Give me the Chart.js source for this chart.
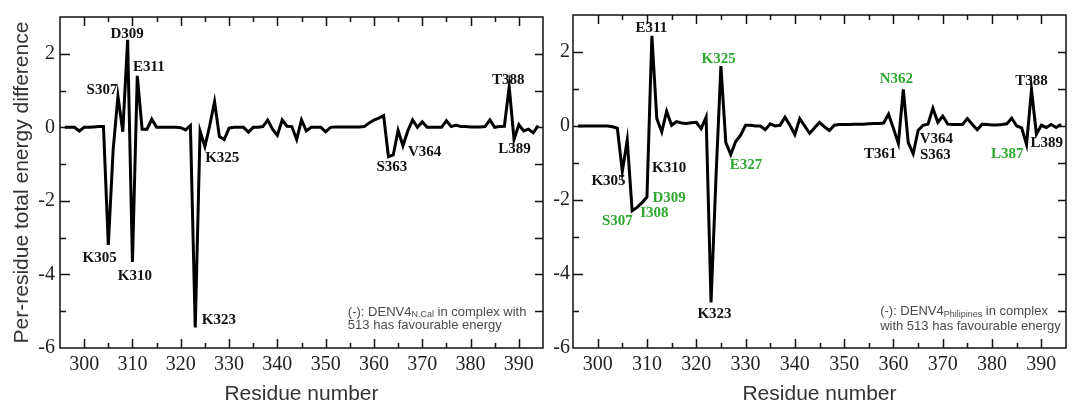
<!DOCTYPE html>
<html>
<head>
<meta charset="utf-8">
<script src="https://cdn.jsdelivr.net/npm/chart.js@4.4.1/dist/chart.umd.min.js"></script>
<style>
  html, body { margin: 0; padding: 0; background: #fff; }
  #wrap { position: relative; width: 1072px; height: 406px; overflow: hidden; }
  .panel { position: absolute; top: 0; height: 406px; }
  #left { left: 0; width: 546px; }
  #right { left: 546px; width: 526px; }
  canvas { display: block; }
</style>
</head>
<body>
<div id="wrap">
  <div class="panel" id="left"><canvas id="cLeft" width="546" height="406"></canvas></div>
  <div class="panel" id="right"><canvas id="cRight" width="526" height="406"></canvas></div>
</div>
<script>
// Residue numbers along the x axis
const residues = [
  296,297,298,299,300,301,302,303,304,305,306,307,308,309,310,311,312,313,314,315,
  316,317,318,319,320,321,322,323,324,325,326,327,328,329,330,331,332,333,334,335,
  336,337,338,339,340,341,342,343,344,345,346,347,348,349,350,351,352,353,354,355,
  356,357,358,359,360,361,362,363,364,365,366,367,368,369,370,371,372,373,374,375,
  376,377,378,379,380,381,382,383,384,385,386,387,388,389,390,391,392,393,394
];

// Per-residue total energy difference, DENV4 N.Cal
const energyNCal = [
  0, 0, 0, -0.1, 0, 0, 0.01, 0.02, 0.02, -3.2,
  -0.62, 0.85, -0.12, 2.38, -3.66, 1.4, -0.05, -0.05, 0.22, 0,
  0, 0, 0, 0, -0.01, -0.07, 0.05, -5.44, -0.1, -0.52,
  0.05, 0.7, -0.25, -0.33, -0.02, 0, 0, 0, -0.13, 0,
  0, 0.02, 0.2, -0.05, -0.22, 0.2, 0.03, 0.02, -0.33, 0.2,
  -0.1, 0, 0, 0, -0.12, 0, 0.01, 0.01, 0.01, 0.01,
  0.01, 0.01, 0.02, 0.12, 0.2, 0.25, 0.32, -0.8, -0.75, -0.08,
  -0.5, -0.1, 0.2, 0, 0.15, 0, 0, 0, 0, 0.18,
  0.02, 0.06, 0.02, 0.02, 0.01, 0.01, 0.01, 0.02, 0.2, 0,
  0.02, 0.03, 1.1, -0.33, 0.07, -0.1, -0.05, -0.15, 0.05
];

// Per-residue total energy difference, DENV4 Philipines
const energyPhil = [
  0, 0, 0, 0, 0, 0, 0, -0.02, -0.06, -1.23,
  -0.38, -2.29, -2.2, -2.07, -1.92, 2.44, 0.2, -0.16, 0.4, 0.02,
  0.12, 0.08, 0.07, 0.09, 0.1, -0.07, 0.24, -4.77, -1.4, 1.62,
  -0.45, -0.77, -0.42, -0.25, 0.02, 0.02, 0, 0, -0.1, 0.06,
  0, 0.02, 0.24, 0.02, -0.23, 0.2, 0, -0.2, -0.05, 0.1,
  -0.02, -0.12, 0.02, 0.04, 0.04, 0.04, 0.05, 0.05, 0.05, 0.06,
  0.07, 0.07, 0.08, 0.32, -0.07, -0.47, 0.99, -0.45, -0.75, -0.12,
  0.02, 0.05, 0.48, 0.1, 0.27, 0.05, 0.04, 0.04, 0.04, 0.2,
  0.04, -0.1, 0.05, 0.04, 0.03, 0.03, 0.04, 0.06, 0.21, 0,
  -0.05, -0.5, 0.98, -0.22, 0.02, -0.04, 0.04, -0.04, 0.05
];

// Labelled tick values
const xTickValues = [300, 310, 320, 330, 340, 350, 360, 370, 380, 390];
const yTickValues = [-6, -4, -2, 0, 2];

// Residue call-outs, placed in data units (residue, energy)
const calloutsNCal = [
  { text: 'D309', x: 308.9, y: 2.53 },
  { text: 'E311', x: 313.4, y: 1.63 },
  { text: 'S307', x: 303.7, y: 1.01 },
  { text: 'K325', x: 328.6, y: -0.83 },
  { text: 'K305', x: 303.2, y: -3.55 },
  { text: 'K310', x: 310.5, y: -4.05 },
  { text: 'K323', x: 327.9, y: -5.25 },
  { text: 'S363', x: 363.7, y: -1.09 },
  { text: 'V364', x: 370.5, y: -0.67 },
  { text: 'T388', x: 387.8, y: 1.28 },
  { text: 'L389', x: 389.1, y: -0.59 }
];
const calloutsPhil = [
  { text: 'E311', x: 310.9, y: 2.65 },
  { text: 'K325', x: 324.55, y: 1.82, green: true },
  { text: 'K310', x: 314.5, y: -1.15 },
  { text: 'K305', x: 302.2, y: -1.5 },
  { text: 'E327', x: 330.1, y: -1.07, green: true },
  { text: 'D309', x: 314.5, y: -1.95, green: true },
  { text: 'I308', x: 311.5, y: -2.35, green: true },
  { text: 'S307', x: 304.0, y: -2.57, green: true },
  { text: 'K323', x: 323.7, y: -5.08 },
  { text: 'N362', x: 360.6, y: 1.26, green: true },
  { text: 'T361', x: 357.3, y: -0.75 },
  { text: 'V364', x: 368.7, y: -0.35 },
  { text: 'S363', x: 368.5, y: -0.8 },
  { text: 'L387', x: 383.1, y: -0.75, green: true },
  { text: 'T388', x: 388.0, y: 1.2 },
  { text: 'L389', x: 391.1, y: -0.45 }
];

// Explanatory notes in the lower right of each panel
const noteNCal = { x: 354.6, y1: -5.02, y2: -5.39,
  pre: '(-): DENV4', sub: 'N.Cal', post: ' in complex with', line2: '513 has favourable energy' };
const notePhil = { x: 357.3, y1: -5.02, y2: -5.43,
  pre: '(-): DENV4', sub: 'Philipines', post: ' in complex', line2: 'with 513 has favourable energy' };

const GREEN = '#2ea82e';
const SERIF = '"Liberation Serif", "Times New Roman", serif';
const SANS = '"Liberation Sans", Arial, sans-serif';

// Box frame with inward tick marks on all four sides, plus text call-outs
const framePlugin = {
  id: 'frameTicks',
  afterDraw(chart, args, opts) {
    const { ctx, chartArea: a, scales: { x, y } } = chart;
    ctx.save();
    ctx.strokeStyle = '#111';
    ctx.lineWidth = 1.5;
    ctx.strokeRect(a.left, a.top, a.right - a.left, a.bottom - a.top);
    ctx.beginPath();
    for (let v = x.min + 5; v < x.max; v += 5) {
      const px = Math.round(x.getPixelForValue(v)) + 0.5;
      const len = xTickValues.includes(v) ? 9 : 5;
      ctx.moveTo(px, a.bottom); ctx.lineTo(px, a.bottom - len);
      ctx.moveTo(px, a.top); ctx.lineTo(px, a.top + len);
    }
    for (let v = y.min + 1; v < y.max; v += 1) {
      const py = Math.round(y.getPixelForValue(v)) + 0.5;
      const len = yTickValues.includes(v) ? 10 : 6;
      ctx.moveTo(a.left, py); ctx.lineTo(a.left + len, py);
      ctx.moveTo(a.right, py); ctx.lineTo(a.right - 8, py);
    }
    ctx.stroke();

    // residue call-outs
    ctx.font = 'bold 15px ' + SERIF;
    ctx.textAlign = 'center';
    ctx.textBaseline = 'middle';
    opts.callouts.forEach(c => {
      ctx.fillStyle = c.green ? GREEN : '#111';
      ctx.fillText(c.text, x.getPixelForValue(c.x), y.getPixelForValue(c.y));
    });

    // note with subscript
    const n = opts.note;
    let px = x.getPixelForValue(n.x);
    const py1 = y.getPixelForValue(n.y1);
    const py2 = y.getPixelForValue(n.y2);
    ctx.fillStyle = '#4a4a4a';
    ctx.textAlign = 'left';
    ctx.font = '13px ' + SANS;
    ctx.fillText(n.pre, px, py1);
    px += ctx.measureText(n.pre).width;
    ctx.font = '9px ' + SANS;
    ctx.fillText(n.sub, px, py1 + 3);
    px += ctx.measureText(n.sub).width;
    ctx.font = '13px ' + SANS;
    ctx.fillText(n.post, px, py1);
    ctx.fillText(n.line2, x.getPixelForValue(n.x), py2);
    ctx.restore();
  }
};

function makePanel(canvasId, values, callouts, note, yWidth, yPadding, rightPad, showYTitle) {
  const points = residues.map((r, i) => ({ x: r, y: values[i] }));
  return new Chart(document.getElementById(canvasId), {
    type: 'line',
    data: {
      datasets: [{
        data: points,
        borderColor: '#000',
        borderWidth: 3,
        pointRadius: 0,
        tension: 0,
        borderJoinStyle: 'miter',
        fill: false
      }]
    },
    options: {
      responsive: false,
      animation: false,
      events: [],
      layout: { padding: { top: 12, right: rightPad, left: 0, bottom: 0 } },
      plugins: {
        legend: { display: false },
        tooltip: { enabled: false },
        frameTicks: { callouts: callouts, note: note }
      },
      scales: {
        x: {
          type: 'linear',
          min: 295,
          max: 395,
          afterBuildTicks: s => { s.ticks = xTickValues.map(v => ({ value: v })); },
          afterFit: s => { s.height = 58; },
          grid: { display: false, drawTicks: false },
          border: { display: false },
          ticks: {
            autoSkip: false, maxRotation: 0, padding: 5, color: '#222',
            font: { family: SERIF, size: 20 }
          },
          title: {
            display: true, text: 'Residue number', color: '#333',
            font: { family: SANS, size: 21 },
            padding: { top: 0, bottom: -1 }
          }
        },
        y: {
          type: 'linear',
          min: -6,
          max: 3,
          afterBuildTicks: s => { s.ticks = yTickValues.map(v => ({ value: v })); },
          afterFit: s => { s.width = yWidth; },
          grid: { display: false, drawTicks: false },
          border: { display: false },
          ticks: {
            padding: yPadding, color: '#222',
            font: { family: SERIF, size: 20 }
          },
          title: {
            display: showYTitle, text: 'Per-residue total energy difference', color: '#333',
            font: { family: SANS, size: 21 },
            padding: { top: 10, bottom: 0 }
          }
        }
      }
    },
    plugins: [framePlugin]
  });
}

makePanel('cLeft', energyNCal, calloutsNCal, noteNCal, 60, 5, 3, true);
makePanel('cRight', energyPhil, calloutsPhil, notePhil, 27, 3, 6, false);
</script>
</body>
</html>
